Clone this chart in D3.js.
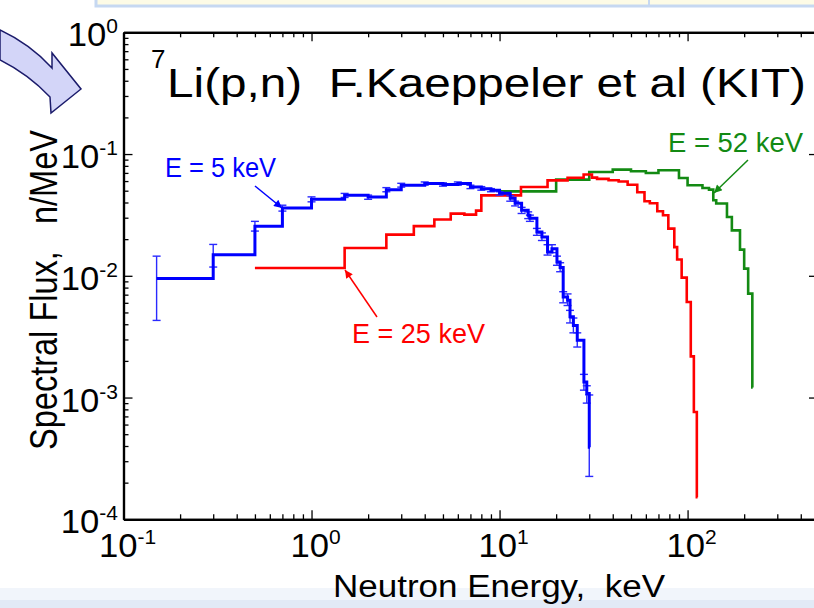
<!DOCTYPE html>
<html>
<head>
<meta charset="utf-8">
<script src="https://cdn.jsdelivr.net/npm/d3@7"></script>
<style>
body { margin: 0; background: #fff; }
svg { display: block; }
text { font-family: "Liberation Sans", Arial, sans-serif; white-space: pre; }
</style>
</head>
<body>
<script>

// axis ticks (decades) and their exponent labels
var xTicks = [0.1, 1, 10, 100];
var xTickExp = ["-1", "0", "1", "2"];
var yTicks = [1e-4, 1e-3, 1e-2, 1e-1, 1];
var yTickExp = ["-4", "-3", "-2", "-1", "0"];

// E = 5 keV  (bin edges in keV, flux in n/MeV, error bar limits)
var blueEdges = [0.15, 0.3, 0.5, 0.7, 1.0, 1.5, 2.0, 2.5, 3, 4, 5, 6, 7, 8, 9, 10, 11.4, 12.1, 13.1, 14.2, 14.5,
  15.8, 16.8, 18.0, 19.0, 20.2, 21.0, 21.8, 23.0, 23.7, 24.7, 25.9, 28.1, 29.1, 30.0, 30.3];
var blueFlux = [0.0095, 0.0149, 0.0255, 0.036, 0.0425, 0.0458, 0.0444, 0.051, 0.0554, 0.0572, 0.0561, 0.0572,
  0.0536, 0.052, 0.0504, 0.0476, 0.0433, 0.0394, 0.0345, 0.0314, 0.0297, 0.0229, 0.0208, 0.0157, 0.0167,
  0.0130, 0.0117, 0.0067, 0.0063, 0.0046, 0.0039, 0.00295, 0.00134, 0.00108, 0.00039];
var blueLo = [0.0043, 0.0118, 0.0233, 0.034, 0.0405, 0.0440, 0.0425, 0.049, 0.0535, 0.0555, 0.0545, 0.0555,
  0.052, 0.0505, 0.049, 0.046, 0.041, 0.0375, 0.0325, 0.0295, 0.028, 0.0215, 0.0195, 0.0148, 0.0155,
  0.0122, 0.0108, 0.0060, 0.0057, 0.0041, 0.0034, 0.0026, 0.00115, 0.00090, 0.000225];
var blueHi = [0.0145, 0.0181, 0.028, 0.038, 0.0445, 0.0475, 0.046, 0.053, 0.0575, 0.059, 0.058, 0.059,
  0.0555, 0.054, 0.052, 0.049, 0.0455, 0.041, 0.0365, 0.0335, 0.0315, 0.0245, 0.0225, 0.018, 0.018,
  0.0145, 0.0128, 0.0074, 0.0071, 0.0052, 0.0045, 0.0034, 0.00155, 0.00125, 0.00105];

// E = 25 keV
var redEdges = [0.5, 1.5, 2.5, 3.5, 4.5, 5.5, 6.5, 7.5, 8, 13, 18, 23, 28, 31, 33, 38, 43, 48, 54, 59,
  63, 69, 74, 79, 85, 88, 93, 99, 104, 108, 112, 113];
var redFlux = [0.0116, 0.0169, 0.0218, 0.0256, 0.029, 0.0324, 0.0318, 0.0343, 0.0458, 0.0536, 0.0608,
  0.0638, 0.068, 0.064, 0.0625, 0.061, 0.0595, 0.056, 0.0485, 0.0409, 0.0394, 0.0339, 0.0314, 0.0244,
  0.0172, 0.0136, 0.00966, 0.0061, 0.00218, 0.00076, 0.000152];

// E = 52 keV
var greenEdges = [10, 20, 30, 40, 50, 60, 70, 90, 100, 120, 130, 137, 142, 162, 172, 190, 200, 210, 221, 222];
var greenFlux = [0.0494, 0.0617, 0.0712, 0.0745, 0.0722, 0.0699, 0.0736, 0.0636, 0.0554, 0.0526, 0.051,
  0.0417, 0.0392, 0.0304, 0.0236, 0.0164, 0.01146, 0.00714, 0.00121];

var w = 814, h = 608;

var svg = d3.select("body").append("svg")
  .attr("width", w)
  .attr("height", h);

// slide decorations (top box, bottom band, curved arrow)
svg.append("rect").attr("x", 96).attr("y", -4).attr("width", 730).attr("height", 10)
  .attr("fill", "#fdfbe6").attr("stroke", "#c6d8f1").attr("stroke-width", 3);
svg.append("line").attr("x1", 649).attr("x2", 649).attr("y1", 0).attr("y2", 6)
  .attr("stroke", "#c6d8f1").attr("stroke-width", 2);
svg.append("rect").attr("x", 0).attr("y", 588).attr("width", w).attr("height", 20).attr("fill", "#f1f5fb");
svg.append("rect").attr("x", 0).attr("y", 600).attr("width", w).attr("height", 8).attr("fill", "#e2eaf6");
svg.append("path")
  .attr("d", "M0,30 Q30,44 52,68 L52,53 L81,89 L51,113 L50,97 Q28,74 0,60 Z")
  .attr("fill", "#d3d5f8").attr("stroke", "#1b1b6b").attr("stroke-width", 1.5);

var x = d3.scaleLog().domain([0.1, 500]).range([123.5, 819]);
var y = d3.scaleLog().domain([1e-4, 1]).range([519.3, 32.3]);

var xMinor = [], yMinor = [];
xTicks.forEach(function(d) {
  for (var k = 2; k <= 9; k++) { if (d * k <= 500) xMinor.push(d * k); }
});
yTicks.slice(0, 4).forEach(function(d) {
  for (var k = 2; k <= 9; k++) yMinor.push(d * k);
});

function drawAxis(gen, tr, ticks, size) {
  svg.append("g").attr("transform", tr)
    .call(gen.tickValues(ticks).tickSize(size).tickSizeOuter(0).tickFormat(""))
    .call(function(g) {
      g.selectAll("line").attr("stroke", "#000").attr("stroke-width", 1.3);
      g.select(".domain").attr("stroke", "#000").attr("stroke-width", 2.2);
    });
}
drawAxis(d3.axisBottom(x), "translate(0,519.3)", xTicks, -9);
drawAxis(d3.axisBottom(x), "translate(0,519.3)", xMinor, -5);
drawAxis(d3.axisTop(x), "translate(0,32.3)", xTicks, -9);
drawAxis(d3.axisTop(x), "translate(0,32.3)", xMinor, -5);
drawAxis(d3.axisLeft(y), "translate(123.5,0)", yTicks, -9);
drawAxis(d3.axisLeft(y), "translate(123.5,0)", yMinor, -5);
drawAxis(d3.axisRight(y), "translate(819,0)", yTicks, -10);
drawAxis(d3.axisRight(y), "translate(819,0)", yMinor, -5);

function powLabel(px, py, exp, anchor) {
  var t = svg.append("text")
    .attr("transform", "translate(" + px + "," + py + ") scale(1.05,1)")
    .attr("text-anchor", anchor)
    .style("font-size", "33px");
  t.append("tspan").text("10");
  t.append("tspan").attr("dy", -13).style("font-size", "20px").text(exp);
}
xTicks.forEach(function(d, i) { powLabel(x(d) + 4, 557, xTickExp[i], "middle"); });
yTicks.forEach(function(d, i) { powLabel(118, y(d) + 14, yTickExp[i], "end"); });

// data series as histograms
function stepPts(edges, vals) {
  var p = vals.map(function(v, i) { return [edges[i], v]; });
  p.push([edges[edges.length - 1], vals[vals.length - 1]]);
  return p;
}
var line = d3.line()
  .x(function(d) { return x(d[0]); })
  .y(function(d) { return y(d[1]); })
  .curve(d3.curveStepAfter);

svg.append("path").attr("d", line(stepPts(greenEdges, greenFlux)))
  .attr("fill", "none").attr("stroke", "#138a13").attr("stroke-width", 2.6);
svg.append("path").attr("d", line(stepPts(redEdges, redFlux)))
  .attr("fill", "none").attr("stroke", "#ff0000").attr("stroke-width", 2.6);

var err = svg.append("g").attr("stroke", "#2a2aff").attr("stroke-width", 1.4);
blueFlux.forEach(function(v, i) {
  var ex = x(blueEdges[i]);
  err.append("line").attr("x1", ex).attr("x2", ex).attr("y1", y(blueLo[i])).attr("y2", y(blueHi[i]));
  err.append("line").attr("x1", ex - 4).attr("x2", ex + 4).attr("y1", y(blueLo[i])).attr("y2", y(blueLo[i]));
  err.append("line").attr("x1", ex - 4).attr("x2", ex + 4).attr("y1", y(blueHi[i])).attr("y2", y(blueHi[i]));
});
svg.append("path").attr("d", line(stepPts(blueEdges, blueFlux)))
  .attr("fill", "none").attr("stroke", "#0000ff").attr("stroke-width", 3);

// title
svg.append("text").attr("x", 151).attr("y", 68).style("font-size", "26px").text("7");
svg.append("text").attr("x", 167).attr("y", 97).style("font-size", "41px")
  .attr("textLength", 639).attr("lengthAdjust", "spacingAndGlyphs")
  .text("Li(p,n)  F.Kaeppeler et al (KIT)");

// axis titles
svg.append("text").attr("x", 333).attr("y", 597).style("font-size", "31px")
  .attr("textLength", 332).attr("lengthAdjust", "spacingAndGlyphs")
  .text("Neutron Energy,  keV");
svg.append("text")
  .attr("transform", "translate(57,290) rotate(-90) scale(1,1.3)")
  .attr("text-anchor", "middle").style("font-size", "30px")
  .attr("textLength", 320).attr("lengthAdjust", "spacingAndGlyphs")
  .text("Spectral Flux,   n/MeV");

// annotations
var defs = svg.append("defs");
[["ahB", "#0000ff"], ["ahR", "#ff0000"], ["ahG", "#138a13"]].forEach(function(a) {
  defs.append("marker").attr("id", a[0]).attr("viewBox", "0 0 10 10")
    .attr("refX", 10).attr("refY", 5).attr("markerWidth", 10).attr("markerHeight", 8)
    .attr("markerUnits", "userSpaceOnUse").attr("orient", "auto")
    .append("path").attr("d", "M0,0 L10,5 L0,10 Z").attr("fill", a[1]);
});
function note(txt, tx, ty, len, col, mk, x1, y1, x2, y2) {
  svg.append("text").attr("x", tx).attr("y", ty).style("font-size", "27px").attr("fill", col)
    .attr("textLength", len).attr("lengthAdjust", "spacingAndGlyphs").text(txt);
  svg.append("line").attr("x1", x1).attr("y1", y1).attr("x2", x2).attr("y2", y2)
    .attr("stroke", col).attr("stroke-width", 1.5).attr("marker-end", "url(#" + mk + ")");
}
note("E = 5 keV", 165, 177, 111, "#0000ff", "ahB", 255, 186, 282, 208);
note("E = 25 keV", 352, 343, 133, "#ff0000", "ahR", 377, 317, 345, 270);
note("E = 52 keV", 668, 152, 135, "#138a13", "ahG", 748, 160, 714, 193);

</script>
</body>
</html>
